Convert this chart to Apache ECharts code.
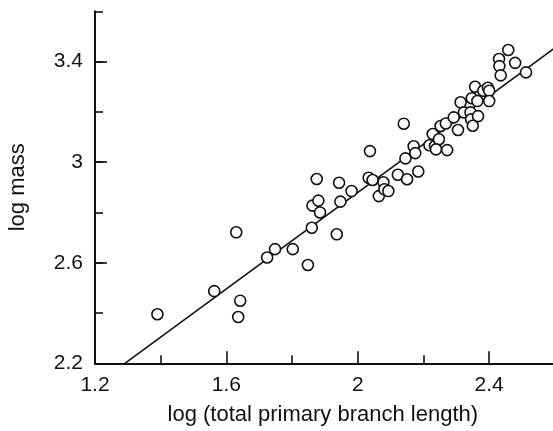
<!DOCTYPE html>
<html>
<head>
<meta charset="utf-8">
<script src="https://cdn.jsdelivr.net/npm/echarts@6/dist/echarts.min.js"></script>
<style>
html,body{margin:0;padding:0;background:#fff;}
#chart{width:553px;height:431px;}
</style>
</head>
<body>
<div id="chart"></div>
<script>
// log (total primary branch length)
var xValues = [1.390, 1.563, 1.630, 1.642, 1.636, 1.724, 1.748, 1.802, 1.848,
  1.860, 1.936, 1.862, 1.880, 1.885, 1.875, 1.943, 1.947, 1.981, 2.037,
  2.033, 2.045, 2.078, 2.064, 2.081, 2.093, 2.122, 2.150, 2.184, 2.140,
  2.145, 2.170, 2.175, 2.218, 2.228, 2.235, 2.247, 2.238, 2.252, 2.268,
  2.272, 2.292, 2.305, 2.313, 2.323, 2.343, 2.345, 2.350, 2.347, 2.364,
  2.366, 2.357, 2.382, 2.396, 2.400, 2.400, 2.430, 2.431, 2.435, 2.458,
  2.479, 2.512];
// log mass
var yValues = [2.395, 2.487, 2.721, 2.449, 2.384, 2.621, 2.654, 2.654, 2.591,
  2.739, 2.713, 2.827, 2.847, 2.800, 2.933, 2.918, 2.843, 2.885, 3.044,
  2.938, 2.929, 2.920, 2.865, 2.892, 2.885, 2.950, 2.932, 2.963, 3.153,
  3.015, 3.063, 3.036, 3.067, 3.112, 3.064, 3.091, 3.051, 3.144, 3.154,
  3.048, 3.178, 3.128, 3.238, 3.198, 3.198, 3.170, 3.145, 3.254, 3.243,
  3.183, 3.300, 3.284, 3.296, 3.284, 3.243, 3.410, 3.382, 3.345, 3.446,
  3.395, 3.357];
// fitted regression line end points
var fitLineX = [1.291, 2.65];
var fitLineY = [2.2, 3.503];

var xTickLabels = ['1.2', '1.6', '2', '2.4', '2.8'];
var yTickLabels = ['2.2', '2.6', '3', '3.4'];
var xTitle = 'log (total primary branch length)';
var yTitle = 'log mass';

var points = xValues.map(function (x, i) { return [x, yValues[i]]; });
var linePts = fitLineX.map(function (x, i) { return [x, fitLineY[i]]; });

var FONT = "'Liberation Sans', Arial, Helvetica, sans-serif";
var INK = '#111';

function fmt(v) { return String(+(+v).toFixed(2)); }

var chart = echarts.init(document.getElementById('chart'), null, {renderer: 'canvas'});
chart.setOption({
  backgroundColor: '#fff',
  animation: false,
  grid: [
    {left: 95, top: 11.3, height: 352, width: 525.6, containLabel: false, outerBoundsMode: 'none'},
    {left: 95, top: 61.6, height: 301.7, width: 525.6, containLabel: false, outerBoundsMode: 'none'}
  ],
  xAxis: [
    {
      type: 'value', gridIndex: 0, min: 1.2, max: 2.8, interval: 0.4,
      axisLine: {show: true, onZero: false, lineStyle: {color: INK, width: 2}},
      axisTick: {show: true, inside: true, length: 12, lineStyle: {color: INK, width: 1.6}},
      minorTick: {show: true, splitNumber: 2, length: 8, lineStyle: {color: INK, width: 1.6}},
      splitLine: {show: false},
      minorSplitLine: {show: false},
      axisLabel: {
        color: INK, fontFamily: FONT, fontSize: 21, margin: 11, hideOverlap: false,
        formatter: function (v) { var s = fmt(v); return xTickLabels.indexOf(s) >= 0 ? s : ''; }
      },
      name: xTitle, nameLocation: 'middle', nameGap: 41,
      nameTextStyle: {color: INK, fontFamily: FONT, fontSize: 22, padding: [0, 70, 0, 0]}
    },
    {
      type: 'value', gridIndex: 1, min: 1.2, max: 2.8, show: false
    }
  ],
  yAxis: [
    {
      type: 'value', gridIndex: 0, min: 2.2, max: 3.6, interval: 0.2,
      axisLine: {show: true, onZero: false, lineStyle: {color: INK, width: 2}},
      axisTick: {show: true, inside: true, length: 8, lineStyle: {color: INK, width: 1.6}},
      splitLine: {show: false},
      axisLabel: {
        color: INK, fontFamily: FONT, fontSize: 21, margin: 12, hideOverlap: false,
        formatter: function (v) { var s = fmt(v); return yTickLabels.indexOf(s) >= 0 ? s : ''; }
      },
      name: yTitle, nameLocation: 'middle', nameGap: 66,
      nameTextStyle: {color: INK, fontFamily: FONT, fontSize: 22}
    },
    {
      type: 'value', gridIndex: 1, min: 2.2, max: 3.4, interval: 0.4,
      axisLine: {show: false},
      axisTick: {show: true, inside: true, length: 12, lineStyle: {color: INK, width: 1.6}},
      splitLine: {show: false},
      axisLabel: {show: false}
    }
  ],
  series: [
    {
      type: 'line', xAxisIndex: 0, yAxisIndex: 0, data: linePts,
      showSymbol: false, symbol: 'none', silent: true, z: 2,
      lineStyle: {color: INK, width: 1.6}
    },
    {
      type: 'scatter', xAxisIndex: 0, yAxisIndex: 0, data: points,
      symbol: 'circle', symbolSize: 11, z: 3,
      itemStyle: {color: '#fff', borderColor: INK, borderWidth: 1.6, opacity: 1}
    }
  ]
});
</script>
</body>
</html>
